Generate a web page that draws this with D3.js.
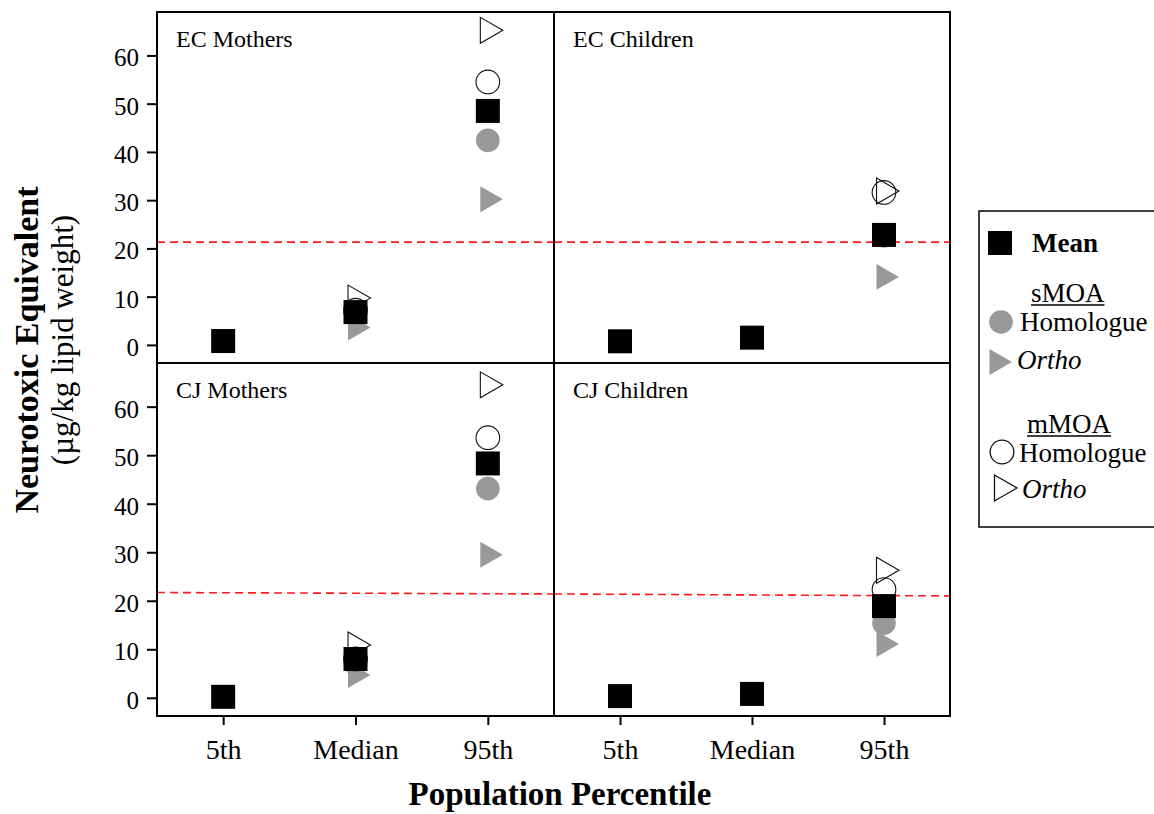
<!DOCTYPE html>
<html>
<head>
<meta charset="utf-8">
<script src="https://cdn.jsdelivr.net/npm/d3@7"></script>
<style>
  html, body { margin: 0; padding: 0; background: #fff; }
  svg { display: block; font-family: "Liberation Serif", "Times New Roman", serif; }
</style>
</head>
<body>
<div id="chart"></div>
<script>
// percentiles along x, one frame per population
const categories = ["5th", "Median", "95th"];
const panelNames = ["EC Mothers", "EC Children", "CJ Mothers", "CJ Children"];
const yTicks = [0, 10, 20, 30, 40, 50, 60];

// values per panel, in category order (null = not shown in the figure)
const meanValues = [
  [0.8, 6.8, 48.5],
  [0.75, 1.5, 22.8],
  [0.2, 8.0, 48.3],
  [0.35, 0.8, 18.9]
];
const sHomologue = [
  [null, 6.5, 42.4],
  [null, null, 22.6],
  [null, 7.0, 43.1],
  [null, null, 15.4]
];
const sOrtho = [
  [null, 3.6, 30.2],
  [null, null, 14.1],
  [null, 4.7, 29.5],
  [null, null, 11.1]
];
const mHomologue = [
  [null, 7.2, 54.5],
  [null, null, 31.6],
  [null, 8.0, 53.6],
  [null, null, 22.3]
];
const mOrtho = [
  [null, 9.7, 65.2],
  [null, null, 31.9],
  [null, 10.9, 64.5],
  [null, null, 26.3]
];
// red dashed reference line, value at left and right edge of each panel
const refLine = [
  [21.3, 21.3],
  [21.3, 21.3],
  [21.7, 21.4],
  [21.4, 21.0]
];

const W = 1154, H = 814;
const frameL = 157, frameR = 950, frameT = 12, frameM = 363, frameB = 716, frameS = 554;

const svg = d3.select("#chart").append("svg")
  .attr("width", W)
  .attr("height", H);

const grey = "#999999";
const series = [
  { name: "sHom", data: sHomologue, shape: "circle", fill: grey, stroke: "none" },
  { name: "sOrtho", data: sOrtho, shape: "triangle", fill: grey, stroke: "none" },
  { name: "mHom", data: mHomologue, shape: "circle", fill: "none", stroke: "#111" },
  { name: "mOrtho", data: mOrtho, shape: "triangle", fill: "none", stroke: "#111" },
  { name: "mean", data: meanValues, shape: "square", fill: "#000", stroke: "none" }
];

const symbolFor = {
  circle: d3.symbol(d3.symbolCircle, 440)(),
  square: d3.symbol(d3.symbolSquare, 576)(),
  triangle: d3.symbol(d3.symbolTriangle, 292)()
};

function marker(g, shape, x, y) {
  const rot = shape === "triangle" ? " rotate(90)" : "";
  return g.append("path")
    .attr("d", symbolFor[shape])
    .attr("transform", `translate(${x},${y})${rot}`);
}

const boxes = [
  { x0: frameL, x1: frameS, y0: frameT, y1: frameM },
  { x0: frameS, x1: frameR, y0: frameT, y1: frameM },
  { x0: frameL, x1: frameS, y0: frameM, y1: frameB },
  { x0: frameS, x1: frameR, y0: frameM, y1: frameB }
];

boxes.forEach((b, i) => {
  const g = svg.append("g");
  const x = d3.scalePoint().domain(categories).range([b.x0, b.x1]).padding(0.5);
  const y = d3.scaleLinear().domain([-3.75, 69.0]).range([b.y1, b.y0]);

  // reference line
  g.append("line")
    .attr("x1", b.x0).attr("x2", b.x1)
    .attr("y1", y(refLine[i][0])).attr("y2", y(refLine[i][1]))
    .attr("stroke", "#ff1a1a")
    .attr("stroke-width", 1.6)
    .attr("stroke-dasharray", "8,5");

  // points
  series.forEach(s => {
    s.data[i].forEach((v, j) => {
      if (v == null) return;
      marker(g, s.shape, x(categories[j]), y(v))
        .attr("fill", s.fill)
        .attr("stroke", s.stroke)
        .attr("stroke-width", s.stroke === "none" ? 0 : 1.1);
    });
  });

  g.append("text")
    .attr("x", b.x0 + 19)
    .attr("y", b.y0 + 35)
    .attr("font-size", 24)
    .text(panelNames[i]);

  if (i % 2 === 0) {
    const ax = svg.append("g")
      .attr("transform", `translate(${b.x0},0)`)
      .call(d3.axisLeft(y).tickValues(yTicks).tickSize(10).tickPadding(8));
    ax.select(".domain").remove();
    ax.selectAll(".tick line").attr("stroke", "#000").attr("stroke-width", 2);
    ax.selectAll(".tick text")
      .attr("font-size", 25)
      .attr("font-family", "Liberation Serif")
      .attr("fill", "#000")
      .attr("dy", "0.42em");
  }
  if (i >= 2) {
    const ax = svg.append("g")
      .attr("transform", `translate(0,${b.y1})`)
      .call(d3.axisBottom(x).tickSize(9).tickPadding(14));
    ax.select(".domain").remove();
    ax.selectAll(".tick line").attr("stroke", "#000").attr("stroke-width", 2);
    ax.selectAll(".tick text")
      .attr("font-size", 28)
      .attr("font-family", "Liberation Serif")
      .attr("fill", "#000");
  }
});

// frames
boxes.forEach(b => {
  svg.append("rect")
    .attr("x", b.x0).attr("y", b.y0)
    .attr("width", b.x1 - b.x0).attr("height", b.y1 - b.y0)
    .attr("fill", "none")
    .attr("stroke", "#000")
    .attr("stroke-width", 2);
});

// axis titles
svg.append("text")
  .attr("x", 560).attr("y", 805)
  .attr("text-anchor", "middle")
  .attr("font-size", 33)
  .attr("font-weight", "bold")
  .text("Population Percentile");

svg.append("text")
  .attr("transform", "translate(38,350) rotate(-90)")
  .attr("text-anchor", "middle")
  .attr("font-size", 34)
  .attr("font-weight", "bold")
  .text("Neurotoxic Equivalent");

svg.append("text")
  .attr("transform", "translate(73,340) rotate(-90)")
  .attr("text-anchor", "middle")
  .attr("font-size", 31)
  .text("(\u00b5g/kg lipid weight)");

// legend
const lg = svg.append("g");
lg.append("rect")
  .attr("x", 979).attr("y", 211)
  .attr("width", 200).attr("height", 316)
  .attr("fill", "#fff")
  .attr("stroke", "#000")
  .attr("stroke-width", 1.5);

marker(lg, "square", 1000, 243).attr("fill", "#000");
marker(lg, "circle", 1001, 322).attr("fill", grey);
marker(lg, "triangle", 997, 362).attr("fill", grey);
marker(lg, "circle", 1002, 452).attr("fill", "none").attr("stroke", "#111").attr("stroke-width", 1.3);
marker(lg, "triangle", 1002, 488).attr("fill", "none").attr("stroke", "#111").attr("stroke-width", 1.3);

const legendText = [
  { t: "Mean", x: 1032, y: 252, weight: "bold" },
  { t: "sMOA", x: 1031, y: 302, under: true },
  { t: "Homologue", x: 1020, y: 331 },
  { t: "Ortho", x: 1017, y: 369, italic: true },
  { t: "mMOA", x: 1027, y: 433, under: true },
  { t: "Homologue", x: 1019, y: 462 },
  { t: "Ortho", x: 1022, y: 498, italic: true }
];
legendText.forEach(d => {
  const t = lg.append("text")
    .attr("x", d.x).attr("y", d.y)
    .attr("font-size", 27)
    .attr("font-weight", d.weight || "normal")
    .attr("font-style", d.italic ? "italic" : "normal")
    .text(d.t);
  if (d.under) {
    const w = t.node().getComputedTextLength();
    lg.append("line")
      .attr("x1", d.x).attr("x2", d.x + w)
      .attr("y1", d.y + 3).attr("y2", d.y + 3)
      .attr("stroke", "#000").attr("stroke-width", 1.3);
  }
});
</script>
</body>
</html>
